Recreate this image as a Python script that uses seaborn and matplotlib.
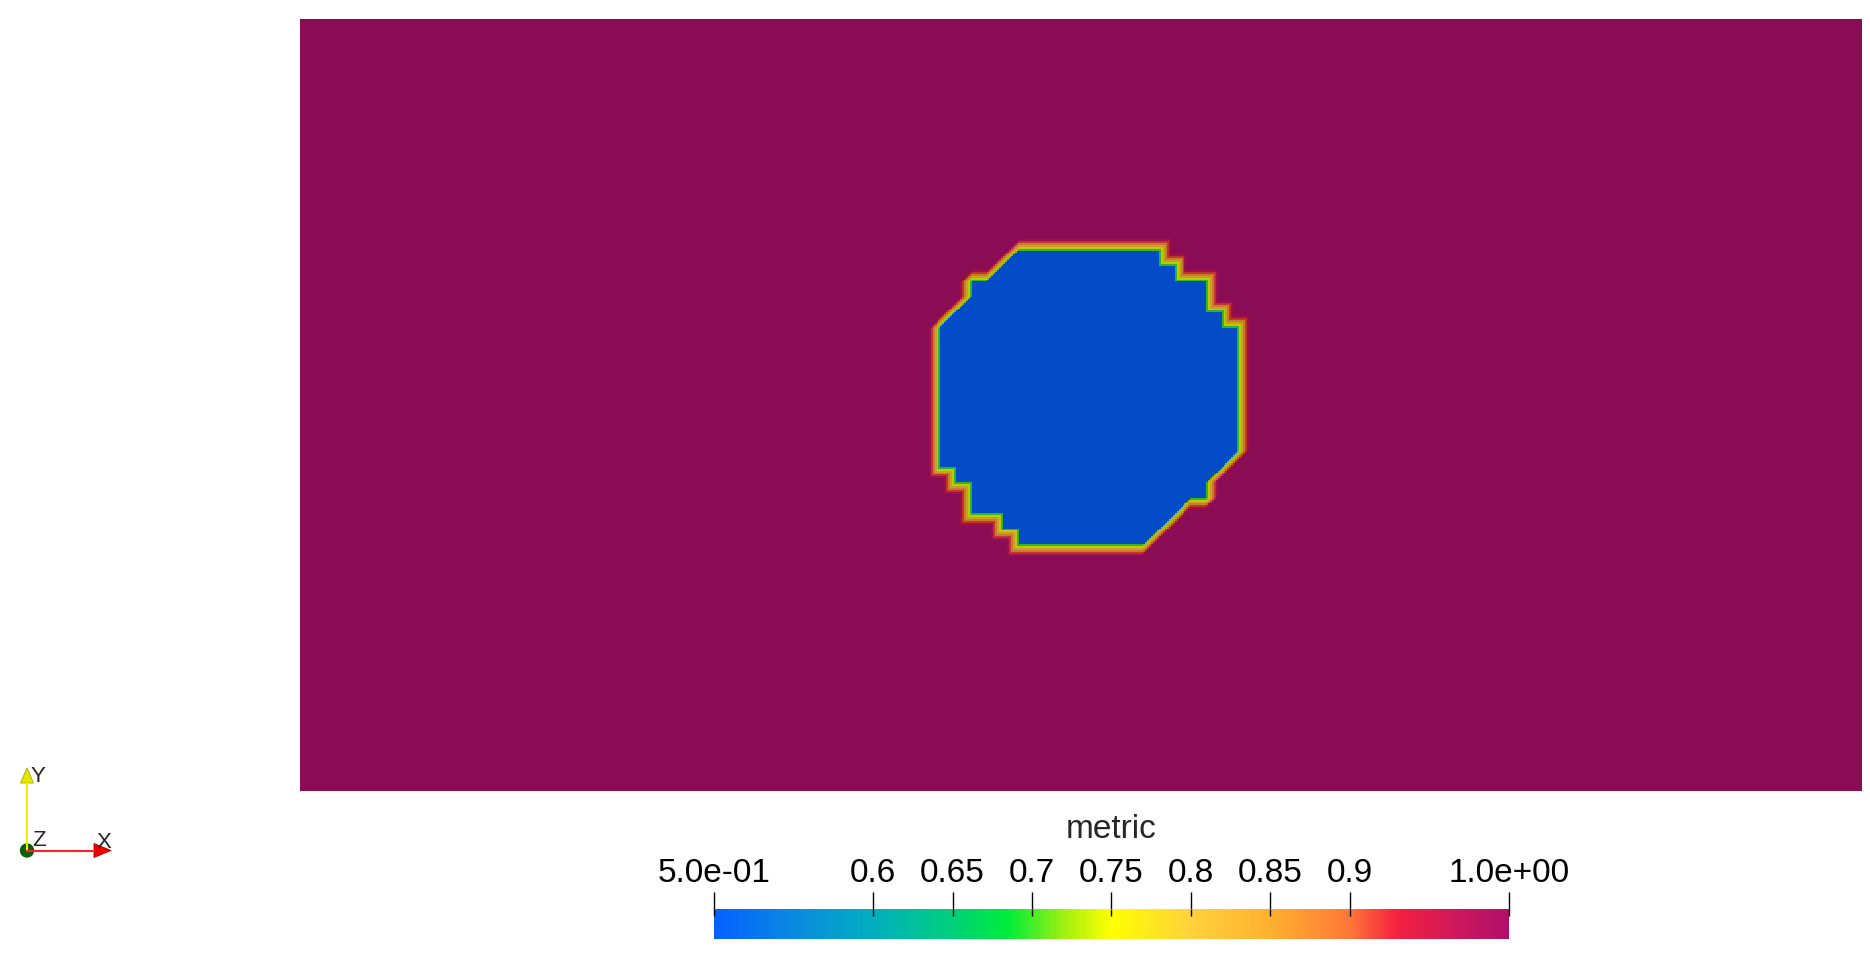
import numpy as np
import matplotlib
matplotlib.use('Agg')
import matplotlib.pyplot as plt
import matplotlib as mpl
from matplotlib.colors import LinearSegmentedColormap, Normalize
from matplotlib.patches import Polygon, Circle
import seaborn as sns

# Mesh: NX x NY cells on [0,2] x [0,1], point data "metric"
NX = 100
NY = 50
METRIC_OUTSIDE = 1.0
METRIC_INSIDE = 0.5

# Vertices inside the low-metric region, one entry per vertex row (counted from the top)
BLOB_ROWS = list(range(15, 35))
BLOB_LO = [46, 45, 43, 43, 42, 41, 41, 41, 41, 41, 41, 41, 41, 41, 41, 42, 43, 43, 45, 46]
BLOB_HI = [55, 56, 58, 58, 59, 60, 60, 60, 60, 60, 60, 60, 60, 60, 59, 58, 58, 56, 55, 54]

# Colour bar
CBAR_TICKS = [0.5, 0.6, 0.65, 0.7, 0.75, 0.8, 0.85, 0.9, 1.0]
CBAR_LABELS = ['5.0e-01', '0.6', '0.65', '0.7', '0.75', '0.8', '0.85', '0.9', '1.0e+00']

# Colour map stops (position in [0,1] of the 0.5..1.0 range)
CMAP_POS = [0.0, 0.1, 0.2, 0.3, 0.37, 0.44, 0.5, 0.6, 0.7, 0.8, 0.86, 0.93, 1.0]
CMAP_COLORS = ['#0561ff', '#0a8ae0', '#02afbf', '#00d07a', '#00ec3a', '#a0f010', '#ffff00',
               '#ffd23c', '#ffb030', '#ff7838', '#f52040', '#d01858', '#b0106c']

sns.set_theme(style='white')
plt.rcParams['font.family'] = ['Liberation Sans', 'DejaVu Sans']

bar_cmap = LinearSegmentedColormap.from_list('metric', list(zip(CMAP_POS, CMAP_COLORS)))
# surface is lit, so it renders a bit darker than the colour bar
dim = 0.78
field_cmap = LinearSegmentedColormap.from_list(
    'metric_lit',
    [(p, tuple(np.array(mpl.colors.to_rgb(c)) * dim)) for p, c in zip(CMAP_POS, CMAP_COLORS)])

# point data on the mesh vertices
mask = np.zeros((NY + 1, NX + 1))
for r, lo, hi in zip(BLOB_ROWS, BLOB_LO, BLOB_HI):
    mask[r, lo:hi + 1] = 1.0

# sample the linear field on triangles (cells split bottom-left -> top-right)
SUB = 8
xs = (np.arange(NX * SUB) + 0.5) / SUB
ys = (np.arange(NY * SUB) + 0.5) / SUB
X, Y = np.meshgrid(xs, ys)
i = np.floor(X).astype(int)
j = np.floor(Y).astype(int)
fx = X - i
fy = Y - j
A = mask[j, i]
B = mask[j, i + 1]
C = mask[j + 1, i]
D = mask[j + 1, i + 1]
upper = (fx + fy) <= 1
t = np.where(upper, A + fx * (B - A) + fy * (C - A),
             D + (1 - fx) * (C - D) + (1 - fy) * (B - D))
shade = np.interp(t, [0.0, 0.25, 0.95, 1.0],
                  [METRIC_OUTSIDE, METRIC_OUTSIDE, 0.69, METRIC_INSIDE])

W, H = 1870, 956
fig = plt.figure(figsize=(W / 100, H / 100), dpi=100)
fig.patch.set_facecolor('white')

ax = fig.add_axes([300 / W, 1 - 791 / H, 1562 / W, 772 / H])
sns.heatmap(shade, cmap=field_cmap, vmin=0.5, vmax=1.0, cbar=False,
            xticklabels=False, yticklabels=False, ax=ax, rasterized=True)
ax.set_xlabel('')
ax.set_ylabel('')
for s in ax.spines.values():
    s.set_visible(False)

# colour bar
cax = fig.add_axes([714 / W, 1 - 939 / H, 795 / W, 30 / H])
cb = mpl.colorbar.ColorbarBase(cax, cmap=bar_cmap, norm=Normalize(0.5, 1.0),
                               orientation='horizontal', ticks=CBAR_TICKS)
cb.outline.set_visible(False)
cax.xaxis.set_ticks_position('top')
cax.set_xticklabels(CBAR_LABELS)
cax.tick_params(axis='x', length=12.2, width=1, pad=2, labelsize=24, colors='black')
# tick marks run a little way into the bar
cax.vlines(CBAR_TICKS, 0.77, 1.0, color='black', lw=1, transform=cax.get_xaxis_transform(),
           clip_on=False, zorder=5)
fig.text(1111 / W, 1 - 838 / H, 'metric', ha='center', va='baseline', fontsize=24)

# orientation triad
axt = fig.add_axes([0, 0, 1, 1])
axt.set_xlim(0, W)
axt.set_ylim(H, 0)
axt.axis('off')
axt.plot([27, 27], [850, 783], color='#f0f000', lw=1.5)
axt.add_patch(Polygon([(27, 768), (20.5, 783), (33.5, 783)], closed=True,
                      facecolor='#e6e600', edgecolor='#a8a800', lw=0.6))
axt.plot([27, 94], [850.5, 850.5], color='#ff2020', lw=1.5)
axt.add_patch(Polygon([(111, 850.5), (94, 843.5), (94, 857.5)], closed=True,
                      facecolor='#ee0000', edgecolor='#aa0000', lw=0.6))
axt.add_patch(Circle((27, 850.5), 6.5, color='#0b5e0b'))
axt.text(37.5, 776.5, 'Y', ha='center', va='center', fontsize=16)
axt.text(39, 841, 'Z', ha='center', va='center', fontsize=16)
axt.text(103.5, 842.5, 'X', ha='center', va='center', fontsize=16)

fig.savefig('out.png', dpi=100)
